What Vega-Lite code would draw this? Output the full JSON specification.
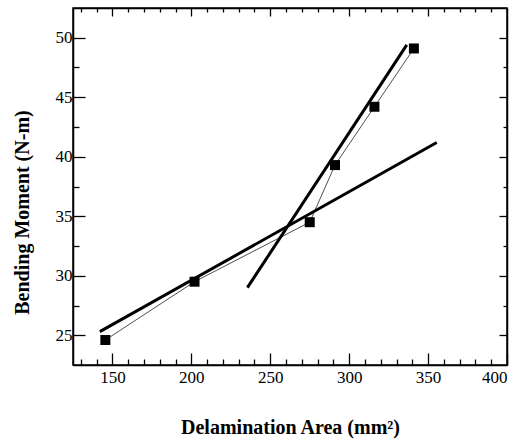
{
  "$schema": "https://vega.github.io/schema/vega-lite/v6.json",
  "width": 434,
  "height": 357,
  "autosize": {"type": "none"},
  "padding": {"left": 73, "top": 8, "right": 23, "bottom": 76},
  "background": "white",
  "config": {
    "view": {"stroke": "black", "strokeWidth": 1.5},
    "axis": {
      "grid": false,
      "domainColor": "black",
      "domainWidth": 1.5,
      "tickColor": "black",
      "tickWidth": 1.3,
      "labelFont": "Liberation Serif",
      "labelFontSize": 17,
      "labelColor": "black",
      "titleFont": "Liberation Serif",
      "titleFontWeight": "bold",
      "titleFontSize": 20,
      "titleColor": "black"
    }
  },
  "datasets": {
    "measured": [
      {"area": 145.5, "moment": 24.6},
      {"area": 202, "moment": 29.5},
      {"area": 275, "moment": 34.5},
      {"area": 291, "moment": 39.3},
      {"area": 316, "moment": 44.2},
      {"area": 341, "moment": 49.1}
    ],
    "fits": [
      {"fit": "low", "area": 142, "moment": 25.3},
      {"fit": "low", "area": 355.5, "moment": 41.2},
      {"fit": "high", "area": 235.5, "moment": 29.0},
      {"fit": "high", "area": 336.5, "moment": 49.4}
    ]
  },
  "layer": [
    {
      "data": {"name": "measured"},
      "mark": {"type": "line", "color": "#222222", "strokeWidth": 0.8},
      "encoding": {
        "x": {
          "field": "area", "type": "quantitative",
          "scale": {"domain": [125, 400], "nice": false, "zero": false},
          "axis": {
            "orient": "bottom",
            "values": [130,140,150,160,170,180,190,200,210,220,230,240,250,260,270,280,290,300,310,320,330,340,350,360,370,380,390,400],
            "tickSize": {"condition": {"test": "datum.value % 50 === 0", "value": -12}, "value": -6},
            "labelExpr": "datum.value % 50 === 0 ? datum.label : ''",
            "labelPadding": 16,
            "title": "Delamination Area (mm²)",
            "titleBaseline": "alphabetic",
            "titleY": 68
          }
        },
        "y": {
          "field": "moment", "type": "quantitative",
          "scale": {"domain": [22.5, 52.5], "nice": false, "zero": false},
          "axis": {
            "orient": "left",
            "values": [25,27.5,30,32.5,35,37.5,40,42.5,45,47.5,50],
            "tickSize": {"condition": {"test": "datum.value % 5 === 0", "value": -12}, "value": -6},
            "labelExpr": "datum.value % 5 === 0 ? datum.label : ''",
            "labelPadding": 13,
            "title": "Bending Moment (N-m)",
            "titleBaseline": "alphabetic",
            "titleAngle": 270,
            "titleX": -45,
            "titleY": 204
          }
        }
      }
    },
    {
      "data": {"name": "measured"},
      "mark": {"type": "square", "size": 100, "color": "black", "opacity": 1, "filled": true},
      "encoding": {
        "x": {"field": "area", "type": "quantitative", "axis": null},
        "y": {"field": "moment", "type": "quantitative", "axis": null}
      }
    },
    {
      "data": {"name": "fits"},
      "mark": {"type": "line", "color": "black", "strokeWidth": 3},
      "encoding": {
        "x": {
          "field": "area", "type": "quantitative",
          "axis": {
            "orient": "top",
            "values": [130,140,150,160,170,180,190,200,210,220,230,240,250,260,270,280,290,300,310,320,330,340,350,360,370,380,390],
            "tickSize": {"condition": {"test": "datum.value % 50 === 0", "value": -8}, "value": -4},
            "labels": false,
            "title": null
          }
        },
        "y": {
          "field": "moment", "type": "quantitative",
          "axis": {
            "orient": "right",
            "values": [25,27.5,30,32.5,35,37.5,40,42.5,45,47.5,50],
            "tickSize": {"condition": {"test": "datum.value % 5 === 0", "value": -8}, "value": -4},
            "labels": false,
            "title": null
          }
        },
        "detail": {"field": "fit", "type": "nominal"}
      }
    }
  ]
}
